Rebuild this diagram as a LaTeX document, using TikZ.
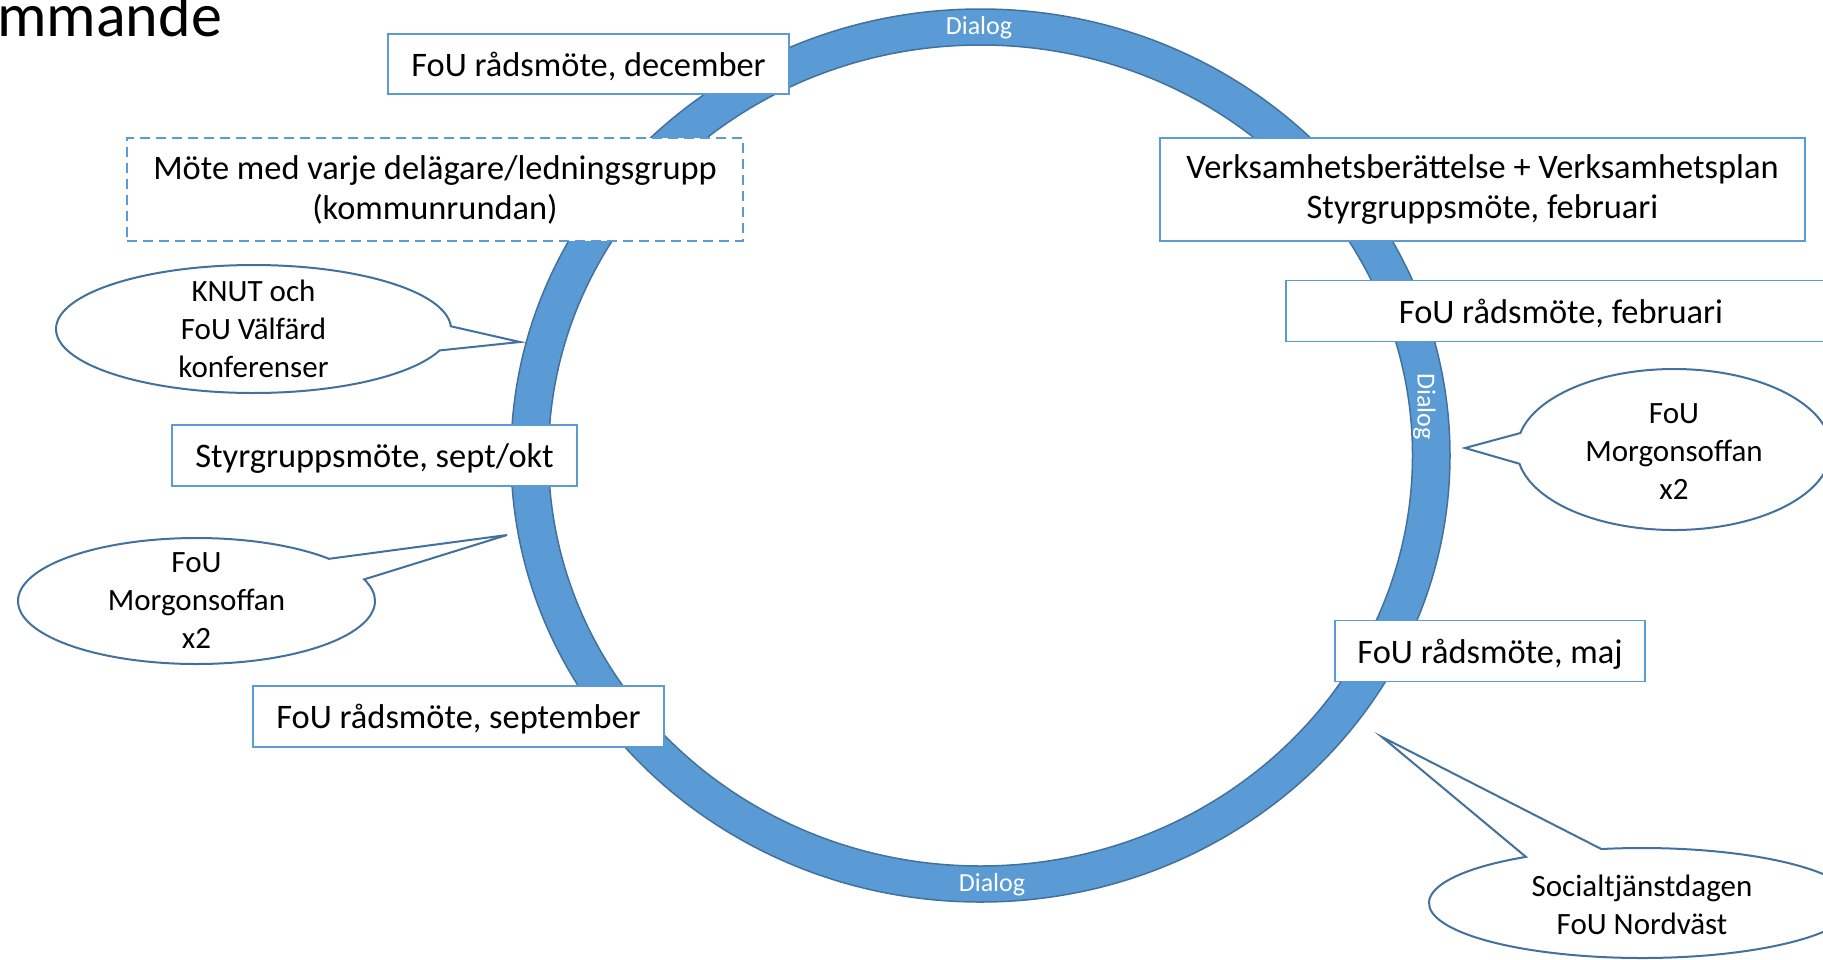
\documentclass[tikz,border=0pt]{standalone}
\usepackage{fontspec}
\setmainfont{Carlito}
\usepackage[usenames,dvipsnames]{xcolor}
\usepackage{tikz}
\usetikzlibrary{shapes.callouts}

\definecolor{boxblue}{HTML}{5B9BD5}
\definecolor{ringblue}{HTML}{5B9BD5}
\definecolor{edgeblue}{HTML}{41719C}

\newcommand{\boxfont}{\fontsize{34.4}{40}\selectfont}
\newcommand{\callfont}{\fontsize{31}{38}\selectfont}
\newcommand{\ringfont}{\fontsize{26}{30}\selectfont}

\begin{document}
\begin{tikzpicture}[x=1pt, y=-1pt,
  mbox/.style={draw=boxblue, line width=1.5, fill=white, inner sep=0pt, align=center, font=\boxfont},
  sbox/.style={mbox, text depth=0pt},
  bubble/.style={ellipse callout, draw=edgeblue, line width=2, fill=white, inner sep=0pt, callout pointer arc=22},
  btext/.style={align=center, font=\callfont, inner sep=0pt},
  dialog/.style={text=white, font=\ringfont, inner sep=0pt}]
  \path[use as bounding box, clip] (0,0) rectangle (1823,959);
  % title %
  \node[anchor=base west, inner sep=0pt, font=\fontsize{62}{70}\selectfont] (title) at (-3,36) {mmande};
  % ring %
  \coordinate (c) at (980.5,455.5);
  \fill[ringblue, even odd rule] (c) ellipse [x radius=469.5, y radius=446.5]
    (c) ellipse [x radius=432, y radius=410.5];
  \draw[edgeblue, line width=1.5] (c) ellipse [x radius=469.5, y radius=446.5];
  \draw[edgeblue, line width=1.5] (c) ellipse [x radius=432, y radius=410.5];
  \node[dialog] (d1) at (979,28) {Dialog};
  \node[dialog] (d2) at (992,885) {Dialog};
  \node[dialog, rotate=-90] (d3) at (1424.5,406.5) {Dialog};
  % boxes %
  \node[sbox, minimum width=401pt, minimum height=60pt] (dec) at (588.5,64) {FoU rådsmöte, december};
  \node[mbox, dash pattern=on 10pt off 6pt, minimum width=616pt, minimum height=103pt] (kommun) at (435,189.5)
    {Möte med varje delägare/ledningsgrupp\\(kommunrundan)};
  \node[mbox, minimum width=645pt, minimum height=103pt] (verks) at (1482.5,189.5)
    {Verksamhetsberättelse + Verksamhetsplan\\Styrgruppsmöte, februari};
  \node[sbox, minimum width=550pt, minimum height=61pt] (feb) at (1561,311) {FoU rådsmöte, februari};
  \node[sbox, minimum width=405pt, minimum height=61pt] (septokt) at (374.5,455.5) {Styrgruppsmöte, sept/okt};
  \node[sbox, minimum width=411pt, minimum height=61pt] (sept) at (458.5,716.5) {FoU rådsmöte, september};
  \node[sbox, minimum width=310pt, minimum height=61pt] (maj) at (1490,651) {FoU rådsmöte, maj};
  % callouts %
  \node[bubble, minimum width=395pt, minimum height=128pt, callout absolute pointer={(520,342)}] (knut) at (253.5,329) {};
  \node[btext] (knuttext) at (knut) {KNUT och\\FoU Välfärd\\konferenser};
  \node[bubble, minimum width=357pt, minimum height=126pt, callout absolute pointer={(507,535)}] (msleft) at (196.5,601) {};
  \node[btext] (mslefttext) at (msleft) {FoU\\Morgonsoffan\\x2};
  \node[bubble, minimum width=314pt, minimum height=161pt, callout absolute pointer={(1465,448)}] (msright) at (1674,449.5) {};
  \node[btext] (msrighttext) at ([yshift=-2]msright) {FoU\\Morgonsoffan\\x2};
  \node[bubble, minimum width=426pt, minimum height=110pt, callout absolute pointer={(1382,737)}] (social) at (1642,903) {};
  \node[btext] (socialtext) at ([yshift=-2]social) {Socialtjänstdagen\\FoU Nordväst};
\end{tikzpicture}
\end{document}
